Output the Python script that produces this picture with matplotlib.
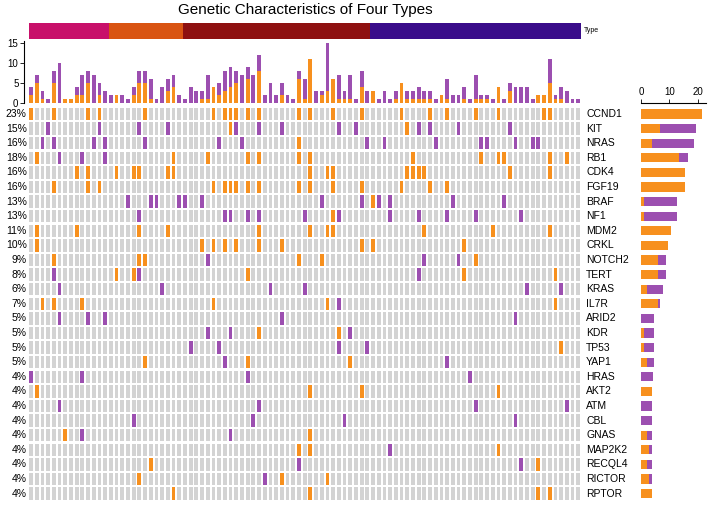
import numpy as np
import matplotlib
matplotlib.use('Agg')
import matplotlib.pyplot as plt

plt.rcParams['font.family'] = ['Liberation Sans', 'DejaVu Sans']

genes = ['CCND1', 'KIT', 'NRAS', 'RB1', 'CDK4', 'FGF19', 'BRAF', 'NF1', 'MDM2', 'CRKL',
         'NOTCH2', 'TERT', 'KRAS', 'IL7R', 'ARID2', 'KDR', 'TP53', 'YAP1', 'HRAS', 'AKT2',
         'ATM', 'CBL', 'GNAS', 'MAP2K2', 'RECQL4', 'RICTOR', 'RPTOR']
pct = ['23%', '15%', '16%', '18%', '16%', '16%', '13%', '13%', '11%', '10%',
       '9%', '8%', '6%', '7%', '5%', '5%', '5%', '5%', '4%', '4%',
       '4%', '4%', '4%', '4%', '4%', '4%', '4%']

# sample columns with amplification (orange) / mutation (purple), per gene
amp_cols = [
    [0, 4, 10, 12, 20, 32, 34, 35, 36, 38, 40, 47, 49, 53, 58, 65, 70, 73, 78, 82, 90, 91],
    [35, 66],
    [47],
    [1, 25, 31, 38, 40, 47, 49, 67, 79, 82, 83, 91, 94],
    [8, 10, 15, 18, 19, 24, 25, 49, 52, 53, 66, 67, 68, 69, 84, 91],
    [4, 10, 12, 32, 34, 35, 36, 38, 40, 47, 49, 53, 58, 65, 70, 73],
    [60],
    [53],
    [1, 8, 19, 24, 40, 49, 52, 53, 69, 81, 91],
    [1, 30, 32, 32, 34, 36, 40, 44, 58, 60, 76],
    [4, 19, 20, 47, 51, 78],
    [15, 18, 38, 76, 92],
    [],
    [2, 4, 9, 32, 52, 92],
    [],
    [40, 54],
    [93],
    [20, 38, 56],
    [],
    [1, 49, 58, 82],
    [],
    [],
    [6, 49],
    [47, 49, 82],
    [21, 89],
    [19, 44, 52],
    [25, 49, 89, 91],
]
mut_cols = [
    [],
    [3, 12, 19, 24, 36, 40, 44, 54, 57, 68, 70, 75, 84],
    [2, 4, 11, 13, 20, 33, 37, 59, 62, 71, 79, 80, 85, 88, 89],
    [5, 9, 13],
    [],
    [],
    [17, 21, 22, 26, 27, 30, 51, 58, 61, 63, 74, 83],
    [19, 34, 35, 38, 40, 48, 54, 63, 68, 73, 78, 86],
    [],
    [],
    [31, 69, 75],
    [4, 19, 68],
    [5, 23, 42, 48, 87, 93],
    [54],
    [5, 10, 13, 44, 85],
    [31, 35, 56],
    [28, 33, 54, 59],
    [34, 73],
    [0, 9, 38, 77],
    [],
    [5, 40, 78, 94],
    [18, 39, 55, 85],
    [9, 35],
    [63],
    [47, 86],
    [41],
    [],
]

# right bar chart: counts per gene
right_amp = [21.5, 6.7, 3.8, 13.5, 15.6, 15.6, 1, 1, 10.6, 9.6, 5.9, 5.9, 2.1,
             6, 0, 1, 1, 2, 0, 4, 0, 0, 2, 3, 2, 3, 4]
right_mut = [0, 12.8, 14.8, 3, 0, 0, 11.6, 11.6, 0, 0, 2.9, 2.9, 5.8,
             0.6, 4.5, 3.5, 3.5, 2.5, 4.2, 0, 3.8, 3.8, 2, 1, 2, 1, 0]

# top bar chart: alterations per sample
top_amp = [2, 5, 1, 0, 5, 0, 1, 1, 2, 2, 5, 0, 2, 0, 0, 2, 0, 0, 2, 5,
           5, 1, 0, 0, 3, 4, 0, 0, 0, 0, 1, 1, 4, 2, 3, 4, 5, 0, 6, 0,
           8, 0, 0, 0, 2, 0, 0, 6, 1, 11, 0, 2, 3, 6, 1, 1, 1, 0, 4, 0,
           3, 0, 0, 0, 1, 5, 1, 1, 1, 1, 1, 0, 2, 1, 0, 0, 1, 0, 1, 1,
           1, 0, 4, 0, 3, 0, 0, 0, 0, 2, 2, 5, 1, 1, 0, 0, 0]
top_tot = [4, 7, 3, 1, 8, 10, 1, 1, 4, 7, 8, 7, 5, 3, 2, 2, 2, 1, 4, 8,
           8, 6, 1, 4, 6, 7, 2, 1, 4, 3, 3, 7, 4, 5, 8, 9, 8, 7, 9, 7,
           12, 2, 5, 2, 5, 2, 1, 8, 6, 11, 3, 3, 15, 6, 7, 3, 7, 1, 8, 3,
           3, 1, 3, 1, 3, 5, 3, 3, 4, 3, 3, 1, 2, 6, 2, 2, 4, 1, 7, 2,
           2, 1, 4, 1, 5, 4, 4, 4, 1, 2, 2, 11, 2, 4, 3, 1, 1]

type_sizes = [14, 13, 33, 37]
type_colors = ['#C8106A', '#D95412', '#8E1010', '#3A0C8A']

c_amp = '#F7901E'
c_mut = '#9C4FB0'
c_bg = '#D3D3D3'

W, H = 709, 505
n_samp = 97
n_gene = len(genes)


def px_axes(fig, x0, y0, x1, y1):
    return fig.add_axes([x0 / W, 1 - y1 / H, (x1 - x0) / W, (y1 - y0) / H])


fig = plt.figure(figsize=(W / 100, H / 100), dpi=100)

# ------------------------------------------------ main grid
ax = px_axes(fig, 28.2, 106.7, 581.1, 500.9)
cols = np.arange(n_samp)
for g in range(n_gene):
    colors = [c_bg] * n_samp
    for c in amp_cols[g]:
        colors[c] = c_amp
    for c in mut_cols[g]:
        colors[c] = c_mut
    ax.bar(cols, 0.84, bottom=g - 0.42, width=0.66, color=colors, linewidth=0)
ax.set_xlim(-0.5, n_samp - 0.5)
ax.set_ylim(n_gene - 0.5, -0.5)
ax.axis('off')
for g in range(n_gene):
    ax.text(-0.75, g, pct[g], ha='right', va='center', fontsize=7.5)
    ax.text(n_samp - 0.5 + 0.9, g, genes[g], ha='left', va='center', fontsize=7.5)

# ------------------------------------------------ top bars
axt = px_axes(fig, 28.2, 41.3, 581.1, 103.3)
top_mut = np.array(top_tot) - np.array(top_amp)
axt.bar(cols, top_amp, width=0.66, color=c_amp, linewidth=0)
axt.bar(cols, top_mut, bottom=top_amp, width=0.66, color=c_mut, linewidth=0)
axt.set_xlim(-0.5, n_samp - 0.5)
axt.set_ylim(0, 15.5)
axt.set_yticks([0, 5, 10, 15])
axt.tick_params(axis='y', labelsize=7, length=3, width=0.6, pad=1)
axt.set_xticks([])
for s in ['top', 'right', 'bottom']:
    axt.spines[s].set_visible(False)
axt.spines['left'].set_position(('outward', 3))
axt.spines['left'].set_linewidth(0.8)

# ------------------------------------------------ type bar
axy = px_axes(fig, 29, 22.7, 581, 38.5)
left = 0
for n, c in zip(type_sizes, type_colors):
    axy.barh(0, n, left=left, height=1, color=c, linewidth=0)
    left += n
axy.set_xlim(0, n_samp)
axy.set_ylim(-0.5, 0.5)
axy.axis('off')
fig.text(584 / W, 1 - 31 / H, 'Type', fontsize=5, ha='left', va='center')

fig.text(305 / W, 1 - 10 / H, 'Genetic Characteristics of Four Types',
         fontsize=11, ha='center', va='center')

# ------------------------------------------------ right bars
axr = px_axes(fig, 641, 106.7, 706, 500.9)
rows = np.arange(n_gene)
axr.barh(rows, right_amp, height=0.62, color=c_amp, linewidth=0)
axr.barh(rows, right_mut, left=right_amp, height=0.62, color=c_mut, linewidth=0)
axr.set_xlim(0, 23)
axr.set_ylim(n_gene - 0.5, -0.5)
axr.xaxis.tick_top()
axr.set_xticks([0, 10, 20])
axr.tick_params(axis='x', labelsize=7, length=3, width=0.6, pad=1)
axr.set_yticks([])
for s in ['bottom', 'right', 'left']:
    axr.spines[s].set_visible(False)
axr.spines['top'].set_position(('outward', 3))
axr.spines['top'].set_linewidth(0.8)

fig.savefig('out.png', dpi=100)
